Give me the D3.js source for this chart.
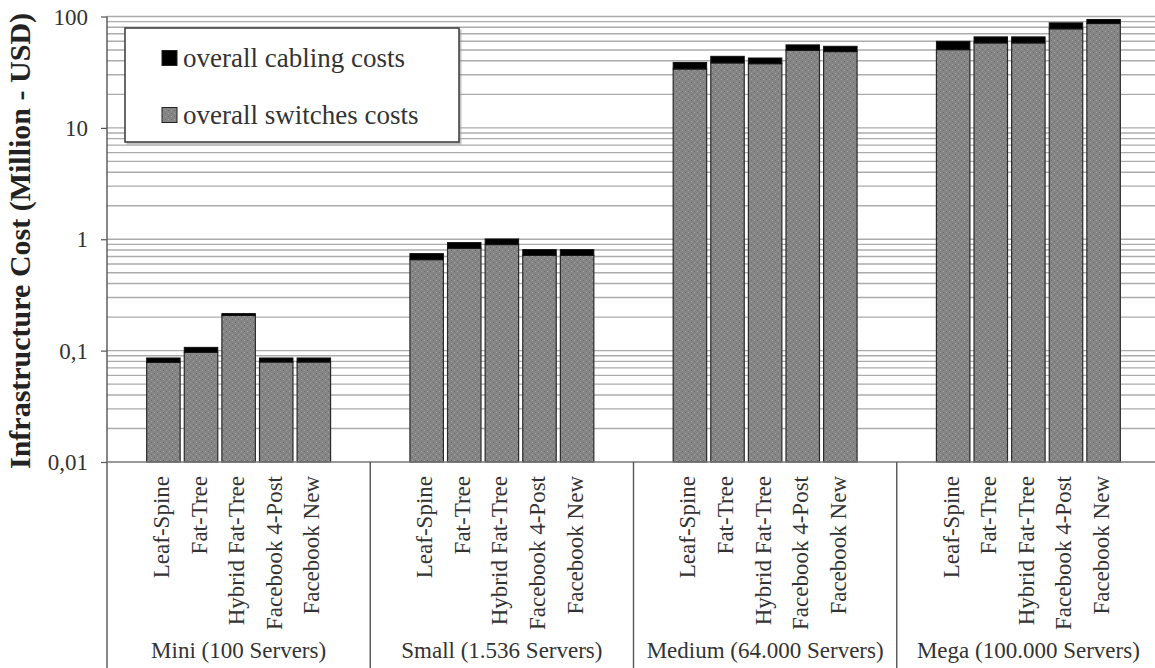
<!DOCTYPE html>
<html>
<head>
<meta charset="utf-8">
<script src="https://cdn.jsdelivr.net/npm/d3@7"></script>
<style>
  html, body { margin: 0; padding: 0; background: #fff; }
  svg { display: block; }
  svg text { font-family: 'Liberation Serif', Tinos, 'Times New Roman', serif; }
</style>
</head>
<body>
<svg id="chart" width="1155" height="668"></svg>
<script>
// Data centre sizes (outer category level)
const groups = ["Mini (100 Servers)", "Small (1.536 Servers)", "Medium (64.000 Servers)", "Mega (100.000 Servers)"];
// Topologies (inner category level)
const topologies = ["Leaf-Spine", "Fat-Tree", "Hybrid Fat-Tree", "Facebook 4-Post", "Facebook New"];

// Overall switches costs, million USD, one row per data centre size
const switchCosts = [
  [0.0785, 0.0966, 0.207, 0.079, 0.079],
  [0.656, 0.83, 0.896, 0.718, 0.718],
  [33.8, 38.3, 37.7, 49.7, 48.4],
  [50.4, 57.9, 57.9, 77.5, 86.5]
];
// Overall cabling costs, million USD, stacked on top of the switches
const cablingCosts = [
  [0.0074, 0.0104, 0.008, 0.0069, 0.0069],
  [0.087, 0.103, 0.110, 0.089, 0.089],
  [4.9, 5.6, 4.7, 5.9, 5.6],
  [9.5, 7.7, 7.7, 10.2, 7.5]
];

const yTickValues = [0.01, 0.1, 1, 10, 100];
const yTickLabels = ["0,01", "0,1", "1", "10", "100"];
const legendItems = ["overall cabling costs", "overall switches costs"];

const FONT = "'Liberation Serif', Tinos, 'Times New Roman', serif";
const INK = "#333";

const svg = d3.select("#chart").attr("font-family", FONT).style("font-family", FONT);
const defs = svg.append("defs");

// Fine dotted texture for the switch segments
const pat = defs.append("pattern")
  .attr("id", "dots").attr("patternUnits", "userSpaceOnUse")
  .attr("width", 6).attr("height", 6);
pat.append("rect").attr("width", 6).attr("height", 6).attr("fill", "#858585");
pat.append("rect").attr("x", 1).attr("y", 1).attr("width", 1).attr("height", 1).attr("fill", "#a4a4a4");
pat.append("rect").attr("x", 4).attr("y", 4).attr("width", 1).attr("height", 1).attr("fill", "#a4a4a4");
pat.append("rect").attr("x", 4).attr("y", 1).attr("width", 1).attr("height", 1).attr("fill", "#6c6c6c");
pat.append("rect").attr("x", 1).attr("y", 4).attr("width", 1).attr("height", 1).attr("fill", "#6c6c6c");

const plotLeft = 107, plotTop = 16.5, plotBottom = 462, plotRight = 1160;

// One slot per topology, with an empty slot either side of each group
const slots = [];
groups.forEach((g, gi) => {
  slots.push(`gap-a-${gi}`);
  topologies.forEach((t, ti) => slots.push(`${gi}-${ti}`));
  slots.push(`gap-b-${gi}`);
});

const x = d3.scaleBand().domain(slots).range([plotLeft, plotRight]).paddingInner(0.11).paddingOuter(0.055);
const y = d3.scaleLog().domain([0.01, 100]).range([plotBottom, plotTop]);

// Major and minor horizontal gridlines
const gridVals = [];
for (let e = -2; e < 2; e++) {
  for (let m = 1; m < 10; m++) gridVals.push(m * Math.pow(10, e));
}
gridVals.push(100);
svg.append("g").selectAll("line").data(gridVals.filter(v => v > 0.01)).join("line")
  .attr("x1", plotLeft).attr("x2", 1155)
  .attr("y1", d => y(d)).attr("y2", d => y(d))
  .attr("stroke", "#ababab").attr("stroke-width", 1.4);

// Bars
const bars = [];
groups.forEach((g, gi) => topologies.forEach((t, ti) => {
  bars.push({ key: `${gi}-${ti}`, name: t, sw: switchCosts[gi][ti], cab: cablingCosts[gi][ti] });
}));

const barG = svg.append("g");
barG.selectAll("rect.sw").data(bars).join("rect")
  .attr("class", "sw")
  .attr("x", d => x(d.key)).attr("width", x.bandwidth())
  .attr("y", d => y(d.sw)).attr("height", d => y(0.01) - y(d.sw))
  .attr("fill", "url(#dots)").attr("stroke", "#2a2a2a").attr("stroke-width", 1.2);
barG.selectAll("rect.cab").data(bars).join("rect")
  .attr("class", "cab")
  .attr("x", d => x(d.key)).attr("width", x.bandwidth())
  .attr("y", d => y(d.sw + d.cab)).attr("height", d => y(d.sw) - y(d.sw + d.cab))
  .attr("fill", "#000").attr("stroke", "#111").attr("stroke-width", 1);

// Y axis
const yAxis = d3.axisLeft(y).tickValues(yTickValues)
  .tickFormat((d, i) => yTickLabels[i]).tickSize(6).tickPadding(13);
const yg = svg.append("g").attr("transform", `translate(${plotLeft},0)`).call(yAxis)
  .attr("font-family", FONT).attr("font-size", 23);
yg.select(".domain").remove();
yg.selectAll(".tick line").attr("stroke", "#555").attr("stroke-width", 1.2);
yg.selectAll(".tick text")
  .style("font-family", FONT).style("font-size", "23px")
  .attr("fill", INK).attr("dy", "0.33em");

// Axis lines: vertical value axis extended through the category area, baseline
svg.append("line").attr("x1", plotLeft).attr("x2", plotLeft).attr("y1", plotTop).attr("y2", 668)
  .attr("stroke", "#555").attr("stroke-width", 1.4);
svg.append("line").attr("x1", plotLeft).attr("x2", 1155).attr("y1", plotBottom).attr("y2", plotBottom)
  .attr("stroke", "#777").attr("stroke-width", 1.6);

// Group separators
const groupBounds = groups.map((g, gi) => ({
  g,
  x0: x(`gap-a-${gi}`) - x.step() * x.paddingInner() / 2,
  x1: x(`gap-b-${gi}`) + x.bandwidth() + x.step() * x.paddingInner() / 2
}));
svg.append("g").selectAll("line").data(groupBounds.slice(1)).join("line")
  .attr("x1", d => d.x0).attr("x2", d => d.x0).attr("y1", plotBottom).attr("y2", 668)
  .attr("stroke", "#555").attr("stroke-width", 1.4);

// Topology labels, rotated
svg.append("g").selectAll("text").data(bars).join("text")
  .attr("transform", d => `translate(${x(d.key) + x.bandwidth() / 2 + 5.5},476) rotate(-90)`)
  .attr("text-anchor", "end")
  .attr("font-family", FONT).style("font-family", FONT).style("font-size", "23px")
  .attr("fill", INK)
  .text(d => d.name);

// Group labels
svg.append("g").selectAll("text").data(groupBounds).join("text")
  .attr("x", d => (d.x0 + d.x1) / 2).attr("y", 658)
  .attr("text-anchor", "middle")
  .attr("font-family", FONT).style("font-family", FONT).style("font-size", "23px")
  .attr("fill", INK)
  .text(d => d.g);

// Y axis title
svg.append("text")
  .attr("transform", "translate(30,241) rotate(-90)")
  .attr("text-anchor", "middle")
  .attr("font-family", FONT).style("font-family", FONT).style("font-size", "30px").style("font-weight", "bold")
  .attr("fill", "#222")
  .text("Infrastructure Cost (Million - USD)");

// Legend
const lg = svg.append("g").attr("transform", "translate(125,28)");
lg.append("rect").attr("x", 1.5).attr("y", 1.5).attr("width", 335).attr("height", 115)
  .attr("fill", "#999").attr("opacity", 0.6);
lg.append("rect").attr("width", 334).attr("height", 114)
  .attr("fill", "#fff").attr("stroke", "#444").attr("stroke-width", 1.6);
const legendFills = ["#000", "url(#dots)"];
legendItems.forEach((t, i) => {
  const cy = 30 + i * 57;
  lg.append("rect").attr("x", 37).attr("y", cy - 7.5).attr("width", 15).attr("height", 15)
    .attr("fill", legendFills[i]).attr("stroke", "#222").attr("stroke-width", 1);
  lg.append("text").attr("x", 58).attr("y", cy).attr("dy", "0.32em")
    .attr("font-family", FONT).style("font-family", FONT).style("font-size", "27px")
    .attr("fill", INK).text(t);
});
</script>
</body>
</html>
